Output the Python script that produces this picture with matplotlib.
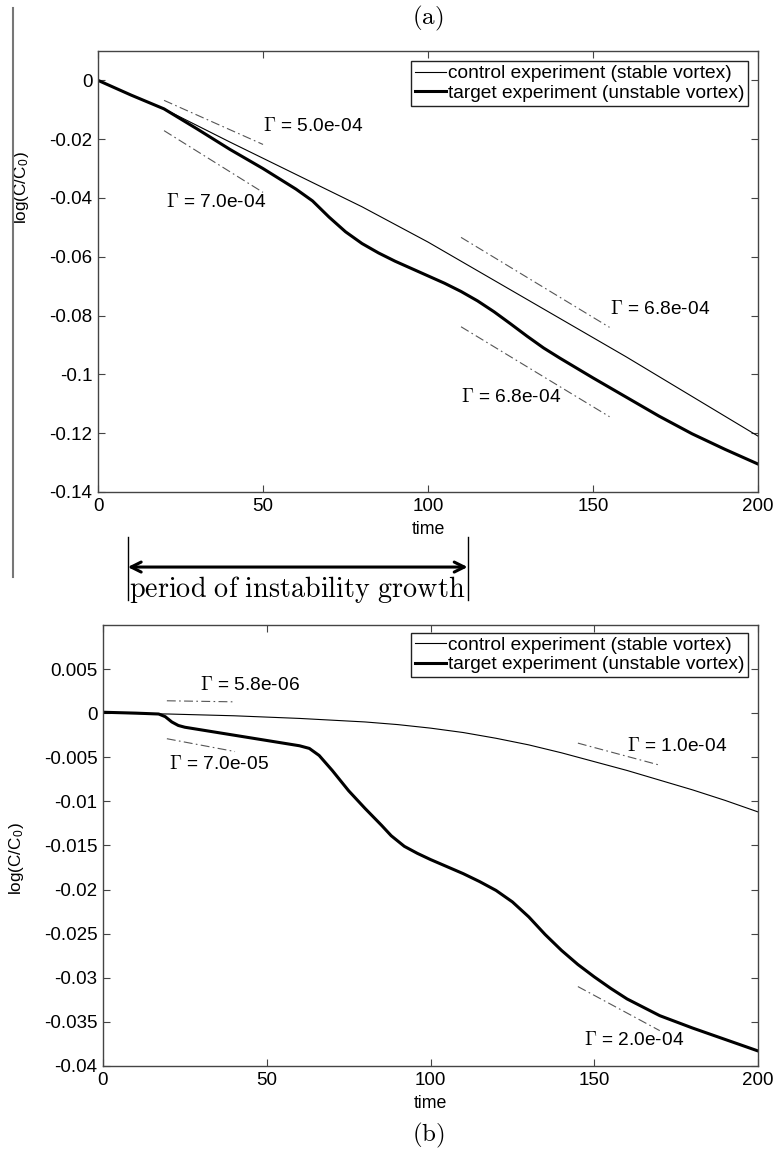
import matplotlib
matplotlib.use('Agg')
import matplotlib.pyplot as plt
from matplotlib.transforms import blended_transform_factory
from matplotlib.lines import Line2D

plt.rcParams['font.family'] = ['Liberation Sans', 'DejaVu Sans']
plt.rcParams['mathtext.fontset'] = 'cm'

# --- panel (a): tracer decay ---
ctrl_a_t = [0, 10, 20, 40, 60, 80, 100, 120, 140, 160, 180, 200]
ctrl_a = [0, -0.005, -0.0097, -0.021, -0.032, -0.043, -0.055, -0.068,
          -0.081, -0.094, -0.1075, -0.121]
targ_a_t = [0, 10, 20, 30, 40, 50, 60, 65, 70, 75, 80, 85, 90, 95, 100,
            105, 110, 115, 120, 125, 130, 135, 140, 150, 160, 170, 180,
            190, 200]
targ_a = [0, -0.005, -0.0097, -0.0165, -0.0235, -0.030, -0.037, -0.041,
          -0.0465, -0.0515, -0.0555, -0.0587, -0.0615, -0.064, -0.0665,
          -0.069, -0.0718, -0.075, -0.0787, -0.0828, -0.087, -0.091,
          -0.0945, -0.1012, -0.1077, -0.1142, -0.1202, -0.1255, -0.1305]

# fitted decay rates (slope guides): start, end, start value, rate
guide_a_t0 = [20, 20, 110, 110]
guide_a_t1 = [50, 50, 155, 155]
guide_a_y0 = [-0.0068, -0.0171, -0.0534, -0.0838]
gamma_a = [5.0e-4, 7.0e-4, 6.8e-4, 6.8e-4]
label_a_x = [50, 20.5, 155, 110]
label_a_y = [-0.0155, -0.0415, -0.0777, -0.1077]

# --- panel (b) ---
ctrl_b_t = [0, 20, 40, 60, 80, 90, 100, 110, 120, 130, 140, 150, 160,
            170, 180, 190, 200]
ctrl_b = [0, -0.0001, -0.0003, -0.0006, -0.001, -0.0013, -0.0017, -0.0022,
          -0.00285, -0.0036, -0.0045, -0.0055, -0.0065, -0.0076, -0.0087,
          -0.0099, -0.0112]
targ_b_t = [0, 10, 17, 19, 21, 23, 25, 30, 40, 50, 60, 63, 66, 70, 75, 80,
            85, 88, 92, 96, 100, 105, 110, 115, 120, 125, 130, 135, 140,
            145, 150, 155, 160, 170, 180, 190, 200]
targ_b = [0.0001, 0, -0.0001, -0.0004, -0.001, -0.0014, -0.0016, -0.0019,
          -0.0025, -0.0031, -0.0037, -0.0040, -0.0048, -0.0065, -0.0088,
          -0.0108, -0.0127, -0.0139, -0.0151, -0.0159, -0.0166, -0.0174,
          -0.0182, -0.0191, -0.0201, -0.0214, -0.0231, -0.0251, -0.0269,
          -0.0285, -0.0299, -0.0312, -0.0324, -0.0343, -0.0357, -0.0370,
          -0.0383]

guide_b_t0 = [19.5, 19.5, 145, 145]
guide_b_t1 = [40.3, 40.3, 170, 170]
guide_b_y0 = [0.0014, -0.0029, -0.0034, -0.031]
gamma_b = [5.8e-6, 7.0e-5, 1.0e-4, 2.0e-4]
label_b_x = [29.6, 20, 160, 147]
label_b_y = [0.0032, -0.0058, -0.0037, -0.0371]

yticks_a = [-0.14, -0.12, -0.1, -0.08, -0.06, -0.04, -0.02, 0]
yticks_b = [-0.04, -0.035, -0.03, -0.025, -0.02, -0.015, -0.01, -0.005, 0, 0.005]
xticks = [0, 50, 100, 150, 200]
legend_labels = ['control experiment (stable vortex)',
                 'target experiment (unstable vortex)']

SPINE = '#444444'
FS = 13.8

fig = plt.figure(figsize=(7.75, 11.53), dpi=100)
ax1 = fig.add_axes([0.1265, 0.5733, 0.8516, 0.3825])
ax2 = fig.add_axes([0.1329, 0.0755, 0.8452, 0.3825])


def style_axes(ax, yticks, ylim):
    ax.set_xlim(0, 200)
    ax.set_ylim(*ylim)
    ax.set_xticks(xticks)
    ax.set_xticklabels([f'{v:g}' for v in xticks])
    ax.set_yticks(yticks)
    ax.set_yticklabels([f'{round(v, 4):g}' for v in yticks])
    ax.tick_params(direction='in', top=True, right=True, length=5,
                   width=0.8, color=SPINE, labelsize=FS - 0.3, pad=4)
    for s in ax.spines.values():
        s.set_color(SPINE)
        s.set_linewidth(1.0)
    ax.set_xlabel('time', fontsize=FS - 1, labelpad=5)


def draw_panel(ax, ct, cv, tt, tv, g_t0, g_t1, g_y0, gammas, lx, ly, leg_anchor):
    ax.plot(ct, cv, color='black', lw=0.8, label=legend_labels[0])
    ax.plot(tt, tv, color='black', lw=2.2, label=legend_labels[1])
    # dash-dot slope guides, drawn from the decay rate itself
    for t0, t1, y0, g in zip(g_t0, g_t1, g_y0, gammas):
        ax.plot([t0, t1], [y0, y0 - g * (t1 - t0)], color='#555555',
                lw=0.8, linestyle=(0, (8, 3, 1.5, 3)))
    for x, y, g in zip(lx, ly, gammas):
        ax.text(x, y, r'$\Gamma$ = ' + f'{g:.1e}', fontsize=FS,
                ha='left', va='center')
    leg = ax.legend(loc='upper right', bbox_to_anchor=leg_anchor,
                    fontsize=FS, fancybox=False, framealpha=1,
                    edgecolor='#222222', borderaxespad=0, borderpad=0.2,
                    handlelength=1.6, handletextpad=0.1, labelspacing=0.1)
    leg.get_frame().set_linewidth(1.0)


style_axes(ax1, yticks_a, (-0.14, 0.01))
style_axes(ax2, yticks_b, (-0.04, 0.01))
draw_panel(ax1, ctrl_a_t, ctrl_a, targ_a_t, targ_a, guide_a_t0, guide_a_t1,
           guide_a_y0, gamma_a, label_a_x, label_a_y, (0.985, 0.977))
draw_panel(ax2, ctrl_b_t, ctrl_b, targ_b_t, targ_b, guide_b_t0, guide_b_t1,
           guide_b_y0, gamma_b, label_b_x, label_b_y, (0.985, 0.982))

ax1.set_ylabel(r'log(C/C$_\mathregular{0}$)', fontsize=FS - 1.5)
ax2.set_ylabel(r'log(C/C$_\mathregular{0}$)', fontsize=FS - 1.5)
ax1.yaxis.set_label_coords(-0.102, 0.69)
ax2.yaxis.set_label_coords(-0.118, 0.47)

# panel tags
fig.text(0.552, 0.984, r'$\mathrm{(a)}$', fontsize=18, ha='center', va='center')
fig.text(0.553, 0.015, r'$\mathrm{(b)}$', fontsize=18, ha='center', va='center')

# left rule next to panel (a)
fig.add_artist(Line2D([0.0174, 0.0174], [0.993, 0.4996], color='#777777',
                      lw=1.5, transform=fig.transFigure))

# bracket marking the growth period, in time units of panel (a)
growth_start, growth_end = 9, 112
tr = blended_transform_factory(ax1.transData, fig.transFigure)
for x in (growth_start, growth_end):
    fig.add_artist(Line2D([x, x], [0.5343, 0.4796], color='black', lw=1.0,
                          transform=tr))
ax1.annotate('', xy=(growth_start, 0.5082), xytext=(growth_end, 0.5082),
             xycoords=tr, textcoords=tr,
             arrowprops=dict(arrowstyle='<->', lw=2.2, color='black',
                             mutation_scale=18, shrinkA=0, shrinkB=0))
ax1.text((growth_start + growth_end) / 2, 0.4883,
         r'$\mathrm{period\ of\ instability\ growth}$', transform=tr,
         fontsize=20.3, ha='center', va='center')

fig.savefig('out.png', dpi=100)
